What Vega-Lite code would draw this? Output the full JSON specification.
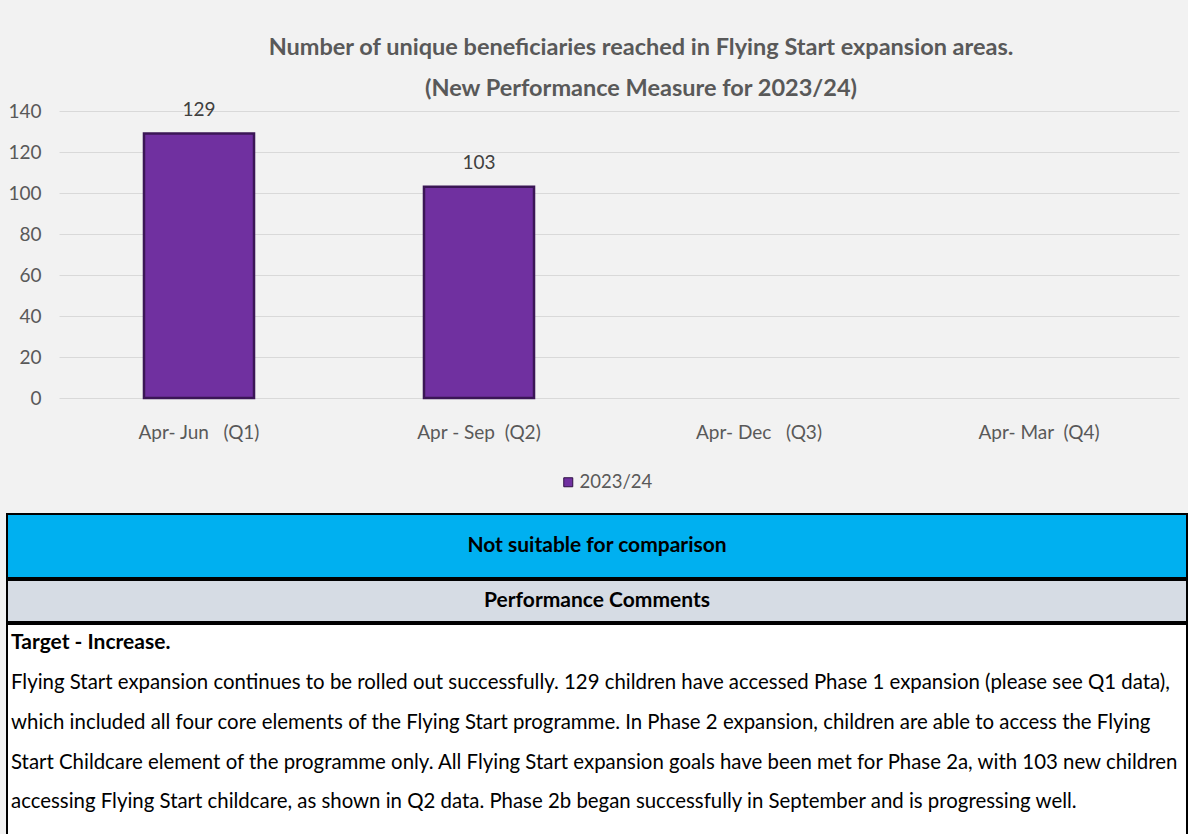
{
  "$schema": "https://vega.github.io/schema/vega-lite/v6.json",
  "background": "#f2f2f2",
  "padding": {"left": 6, "top": 36, "right": 0, "bottom": 0},
  "config": {
    "font": "Lato",
    "concat": {"spacing": 0}
  },
  "columns": 1,
  "spacing": 0,
  "resolve": {"scale": {"color": "independent"}, "legend": {"color": "independent"}},
  "concat": [
    {
      "width": 1180,
      "height": 287,
      "view": {"stroke": null, "fill": "#f2f2f2"},
      "title": {
        "text": ["Number of unique beneficiaries reached in Flying Start expansion areas.", "(New Performance Measure for 2023/24)"],
        "fontSize": 23.5,
        "fontWeight": "bold",
        "color": "#595959",
        "lineHeight": 41,
        "offset": 0,
        "dx": 44,
        "anchor": "middle"
      },
      "data": {
        "values": [
          {"period": "Apr- Jun   (Q1)", "series": "2023/24", "value": 129},
          {"period": "Apr - Sep  (Q2)", "series": "2023/24", "value": 103},
          {"period": "Apr- Dec   (Q3)", "series": "2023/24", "value": null},
          {"period": "Apr- Mar  (Q4)", "series": "2023/24", "value": null}
        ]
      },
      "encoding": {
        "x": {
          "field": "period",
          "type": "nominal",
          "sort": null,
          "scale": {
            "domain": ["Apr- Jun   (Q1)", "Apr - Sep  (Q2)", "Apr- Dec   (Q3)", "Apr- Mar  (Q4)"],
            "range": [52, 1172],
            "paddingInner": 0.607,
            "paddingOuter": 0.3035
          },
          "axis": {
            "title": null,
            "labelAngle": 0,
            "domain": false,
            "ticks": false,
            "grid": false,
            "labelPadding": 25,
            "labelFontSize": 19,
            "labelColor": "#595959",
            "labelExpr": "replace(datum.label, / /g, '\u00a0')"
          }
        },
        "y": {
          "field": "value",
          "type": "quantitative",
          "scale": {"domain": [0, 140]},
          "axis": {
            "title": null,
            "values": [0, 20, 40, 60, 80, 100, 120, 140],
            "domain": false,
            "ticks": false,
            "labelAlign": "right",
            "labelPadding": -34,
            "minExtent": 0,
            "maxExtent": 0,
            "labelFontSize": 19,
            "labelColor": "#595959",
            "gridColor": "#d9d9d9",
            "gridWidth": 1.2
          }
        }
      },
      "layer": [
        {
          "mark": {"type": "bar", "stroke": "#3b1656", "strokeWidth": 2.5},
          "encoding": {
            "color": {
              "field": "series",
              "type": "nominal",
              "scale": {"range": ["#7030a0"]},
              "legend": {
                "title": null,
                "orient": "none",
                "legendX": 531,
                "legendY": 341,
                "direction": "horizontal",
                "symbolType": "square",
                "symbolSize": 81,
                "symbolStrokeColor": "#2e0f45",
                "symbolStrokeWidth": 1,
                "labelFontSize": 18.5,
                "labelColor": "#595959",
                "labelOffset": 2,
                "padding": 21
              }
            }
          }
        },
        {
          "mark": {"type": "text", "baseline": "middle", "dy": -24, "fontSize": 19, "color": "#404040"},
          "encoding": {"text": {"field": "value", "type": "quantitative"}}
        }
      ]
    },
    {
      "width": 1180,
      "height": 64,
      "view": {"fill": "#00b0f0", "stroke": "#000000", "strokeWidth": 2},
      "data": {"values": [{"label": "Not suitable for comparison"}]},
      "mark": {"type": "text", "fontWeight": "bold", "fontSize": 21, "color": "#000000", "baseline": "middle"},
      "encoding": {"text": {"field": "label", "type": "nominal"}}
    },
    {
      "width": 1180,
      "height": 42,
      "view": {"fill": "#d6dce4", "stroke": "#000000", "strokeWidth": 2},
      "data": {"values": [{"label": "Performance Comments"}]},
      "mark": {"type": "text", "fontWeight": "bold", "fontSize": 21, "color": "#000000", "baseline": "middle"},
      "encoding": {"text": {"field": "label", "type": "nominal"}}
    },
    {
      "width": 1180,
      "height": 214,
      "view": {"fill": "#ffffff", "stroke": "#000000", "strokeWidth": 2},
      "data": {
        "values": [
          {"line": 0, "bold": true, "text": "Target - Increase."},
          {"line": 1, "bold": false, "text": "Flying Start expansion continues to be rolled out successfully. 129 children have accessed Phase 1 expansion (please see Q1 data),"},
          {"line": 2, "bold": false, "text": "which included all four core elements of the Flying Start programme. In Phase 2 expansion, children are able to access the Flying"},
          {"line": 3, "bold": false, "text": "Start Childcare element of the programme only. All Flying Start expansion goals have been met for Phase 2a, with 103 new children"},
          {"line": 4, "bold": false, "text": "accessing Flying Start childcare, as shown in Q2 data. Phase 2b began successfully in September and is progressing well."}
        ]
      },
      "encoding": {
        "x": {"datum": 0, "type": "quantitative", "scale": {"domain": [0, 1]}, "axis": null},
        "y": {"field": "line", "type": "quantitative", "scale": {"domain": [-0.49, 4.894], "reverse": true, "zero": false, "nice": false}, "axis": null},
        "text": {"field": "text", "type": "nominal"}
      },
      "layer": [
        {
          "transform": [{"filter": "datum.bold"}],
          "mark": {"type": "text", "align": "left", "baseline": "middle", "dx": 4, "fontSize": 21, "fontWeight": "bold", "color": "#000000"}
        },
        {
          "transform": [{"filter": "!datum.bold"}],
          "mark": {"type": "text", "align": "left", "baseline": "middle", "dx": 4, "fontSize": 20.4, "color": "#000000"}
        }
      ]
    }
  ]
}
